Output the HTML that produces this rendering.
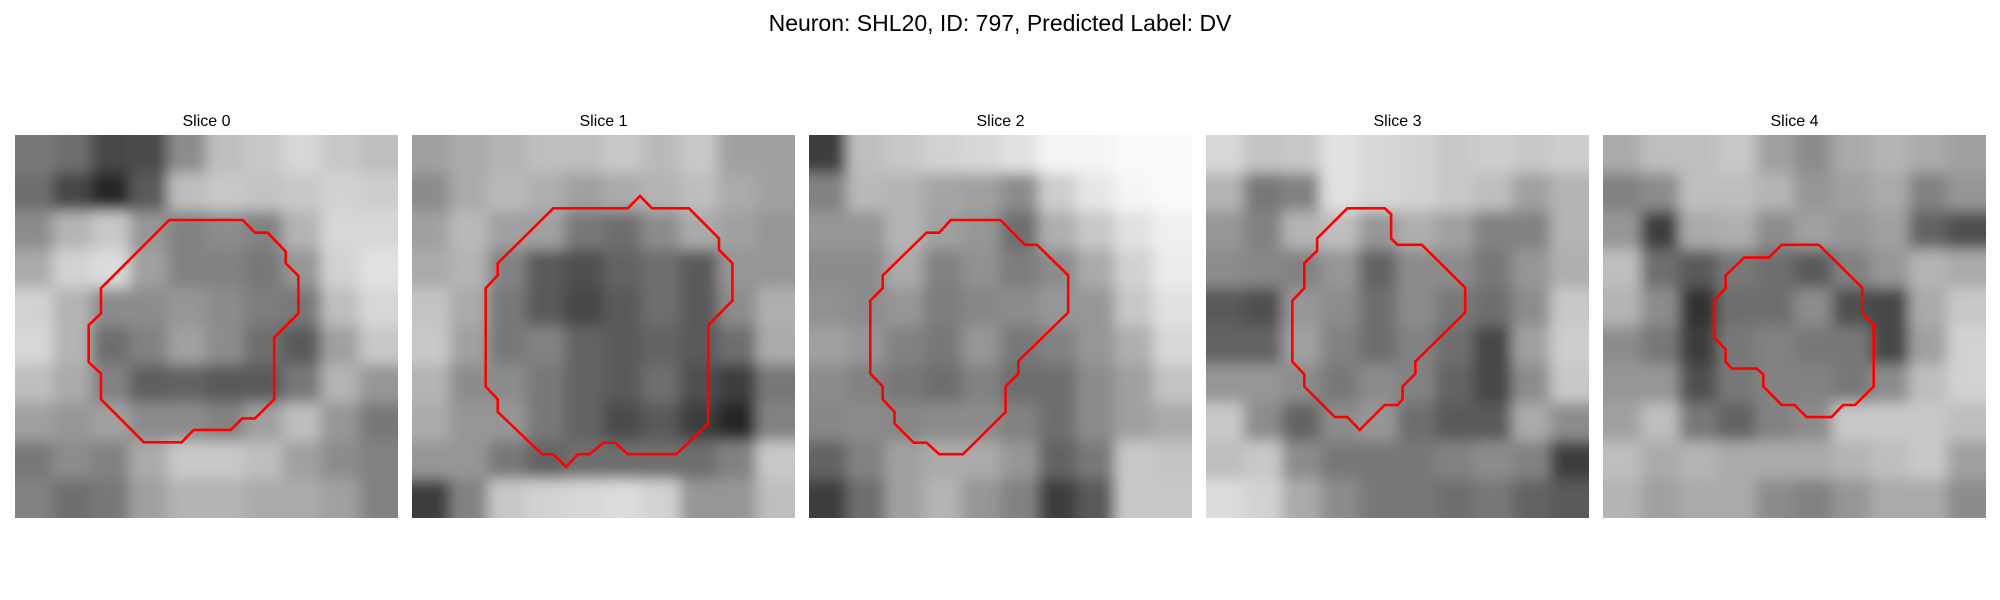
<!DOCTYPE html>
<html><head><meta charset="utf-8"><style>
html,body{margin:0;padding:0;background:#fff;width:2000px;height:600px;overflow:hidden}
svg{display:block}
</style></head><body>
<svg id="fig" width="2000" height="600" xmlns="http://www.w3.org/2000/svg">
<defs>
<filter id="blur" filterUnits="userSpaceOnUse" x="-100" y="0" width="2200" height="700"><feGaussianBlur stdDeviation="7"/></filter>
</defs>
<text x="1000" y="31" text-anchor="middle" font-family="Liberation Sans, DejaVu Sans, sans-serif" font-size="23" fill="#000">Neuron: SHL20, ID: 797, Predicted Label: DV</text>
</svg>
<script>
const panelTitles = ["Slice 0","Slice 1","Slice 2","Slice 3","Slice 4"];
const grid0 = [[120,110,70,75,140,190,200,215,200,190],[110,70,40,90,190,200,195,200,210,205],[140,180,200,150,130,140,130,180,215,215],[170,210,220,160,130,130,120,150,210,225],[210,180,140,140,150,140,125,120,190,215],[215,180,110,130,160,140,110,90,160,200],[190,170,130,95,100,90,90,120,180,150],[160,150,160,140,140,130,160,190,150,120],[120,140,130,170,200,200,190,160,140,130],[130,110,120,160,180,180,170,170,160,130]];
const grid1 = [[160,170,180,190,190,200,185,200,160,160],[140,170,185,175,160,170,180,190,170,160],[160,185,160,160,120,110,140,170,160,150],[170,180,130,90,80,100,110,90,150,150],[195,170,120,90,70,90,110,90,140,175],[200,160,120,130,100,90,100,90,110,170],[180,140,140,120,100,90,110,80,60,120],[170,150,150,120,100,75,90,60,40,130],[150,150,120,100,110,110,110,110,130,200],[60,130,200,210,215,220,210,150,150,190]];
const grid2 = [[60,190,200,210,215,225,245,245,250,250],[130,185,180,165,160,140,205,230,245,250],[150,150,180,160,150,110,175,200,225,240],[140,140,170,130,145,125,140,170,210,235],[145,140,150,125,135,140,150,150,200,225],[160,150,130,120,150,120,130,150,175,215],[140,130,120,110,130,110,110,140,160,195],[135,140,135,140,140,130,110,140,160,170],[100,130,160,170,170,150,100,120,200,195],[60,110,160,180,150,130,60,90,200,200]];
const grid3 = [[215,195,200,225,215,210,200,205,200,205],[180,120,130,225,215,210,200,190,160,180],[150,130,180,190,150,175,160,130,130,180],[140,135,130,150,100,140,140,120,150,175],[90,80,150,140,110,140,120,110,140,200],[100,100,160,130,110,130,110,70,160,205],[150,150,140,120,140,130,100,70,140,200],[200,140,100,140,150,110,90,90,170,140],[190,200,140,120,120,120,130,140,130,60],[220,210,170,140,120,120,110,120,100,90]];
const grid4 = [[170,190,190,200,160,140,170,180,170,160],[130,140,190,190,180,150,160,170,130,150],[150,60,170,175,140,160,150,160,100,80],[190,110,90,120,110,90,130,150,180,170],[180,140,50,110,110,140,80,70,170,200],[140,120,60,120,130,120,120,70,160,210],[150,150,80,120,130,130,120,140,190,210],[160,190,120,100,130,140,200,200,200,190],[190,170,180,170,170,170,180,190,200,160],[180,160,170,170,140,130,150,170,170,140]];
const contour0 = [[12.09,6.66],[17.83,6.66],[18.8,7.65],[19.8,7.65],[21.2,9.14],[21.2,10.05],[22.2,11.04],[22.2,13.97],[20.3,15.85],[20.3,20.7],[18.8,22.2],[17.8,22.2],[16.9,23.1],[14.0,23.1],[13.05,24.07],[10.1,24.07],[6.74,20.7],[6.74,18.7],[5.77,17.8],[5.77,14.9],[6.74,13.97],[6.74,12.0]];
const contour1 = [[11.07,5.74],[16.9,5.74],[17.86,4.78],[18.8,5.74],[21.7,5.74],[24.05,8.1],[24.05,9.0],[25.1,10.05],[25.1,12.98],[23.2,14.9],[23.2,22.6],[20.7,25.0],[16.9,25.0],[15.9,24.1],[15.0,24.1],[13.9,25.0],[13.0,25.0],[12.06,26.0],[11.07,25.0],[10.2,25.0],[6.71,21.7],[6.71,20.7],[5.77,19.7],[5.77,12.0],[6.71,11.0],[6.71,10.05]];
const contour2 = [[11.1,6.66],[15.0,6.66],[16.9,8.6],[17.86,8.6],[20.3,11.0],[20.3,13.9],[16.4,17.7],[16.4,18.7],[15.4,19.7],[15.4,21.7],[12.06,25.0],[10.2,25.0],[9.2,24.1],[8.2,24.1],[6.7,22.6],[6.7,21.7],[5.77,20.7],[5.77,19.7],[4.8,18.7],[4.8,12.98],[5.77,12.0],[5.77,11.0],[9.2,7.65],[10.2,7.65]];
const contour3 = [[11.07,5.74],[14.0,5.74],[14.5,6.2],[14.5,8.1],[15.0,8.6],[16.9,8.6],[20.3,11.96],[20.3,13.9],[16.4,17.75],[16.4,18.7],[15.4,19.7],[15.4,20.7],[15.0,21.15],[14.0,21.15],[12.04,23.1],[11.07,22.1],[10.1,22.1],[7.7,19.7],[7.7,18.75],[6.76,17.75],[6.76,12.98],[7.7,12.0],[7.7,10.05],[8.7,9.06],[8.7,8.1]];
const contour4 = [[14.0,8.6],[16.9,8.6],[20.3,11.96],[20.3,13.9],[21.2,14.9],[21.2,19.7],[19.74,21.15],[18.8,21.15],[17.9,22.1],[15.95,22.1],[15.0,21.15],[14.0,21.15],[12.56,19.7],[12.56,18.75],[12.04,18.3],[10.1,18.3],[9.6,17.75],[9.6,16.8],[8.7,15.85],[8.7,12.98],[9.6,12.0],[9.6,11.0],[11.07,9.6],[13.0,9.6]];

const grids = [grid0,grid1,grid2,grid3,grid4];
const contours = [contour0,contour1,contour2,contour3,contour4];
const NS = "http://www.w3.org/2000/svg";
const svg = document.getElementById('fig');
const panelX = [15,412,809,1206,1603];
const panelY = 135, panelW = 383, nCells = 30;
function mk(tag, attrs){const e=document.createElementNS(NS,tag);for(const k in attrs)e.setAttribute(k,attrs[k]);return e;}
grids.forEach((g,p)=>{
  const x0 = panelX[p];
  const sx = v => x0 + v/nCells*panelW;
  const sy = v => panelY + v/nCells*panelW;
  const grp = mk('g',{});
  
  
  const cp = mk('clipPath',{id:'clip'+p});
  cp.appendChild(mk('rect',{x:x0,y:panelY,width:panelW,height:panelW}));
  svg.querySelector('defs').appendChild(cp);
  const img = mk('g',{'clip-path':'url(#clip'+p+')'});
  const blurG = mk('g',{filter:'url(#blur)'});
  const n = g.length, cs = panelW/n;
  for(let r=-1;r<=n;r++){for(let c=-1;c<=n;c++){
    const rr=Math.min(n-1,Math.max(0,r)), cc=Math.min(n-1,Math.max(0,c));
    const v=g[rr][cc];
    const rc = mk('rect',{x:x0+c*cs-0.5,y:panelY+r*cs-0.5,width:cs+1,height:cs+1,fill:`rgb(${v},${v},${v})`});
    
    
    blurG.appendChild(rc);
  }}
  img.appendChild(blurG);
  
  
  grp.appendChild(img);
  const pts = contours[p].map(q=>sx(q[0]).toFixed(1)+','+sy(q[1]).toFixed(1)).join(' ');
  const poly = mk('polygon',{points:pts,fill:'none',stroke:'#ff0000','stroke-width':2.6,'stroke-linejoin':'miter'});
  
  
  grp.appendChild(poly);
  const t = mk('text',{x:x0+panelW/2,y:126,'text-anchor':'middle','font-family':'Liberation Sans, DejaVu Sans, sans-serif','font-size':'16',fill:'#000'});
  t.textContent = panelTitles[p];
  
  
  grp.appendChild(t);
  svg.appendChild(grp);
});
</script>
</body></html>
